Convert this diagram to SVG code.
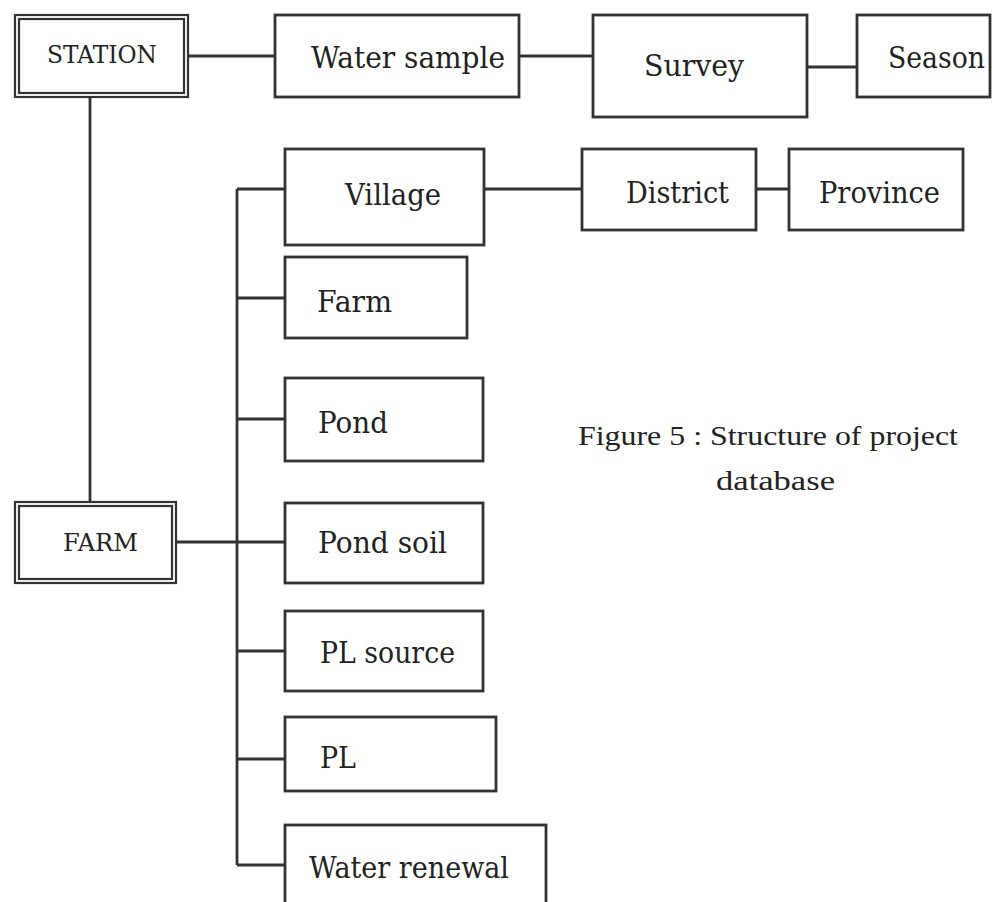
<svg xmlns="http://www.w3.org/2000/svg" width="992" height="902" viewBox="0 0 992 902">
<style>
.box{fill:#fff;stroke:#333;stroke-width:2.8}
.dbl{fill:none;stroke:#333;stroke-width:2.2}
.lbl{font-family:"DejaVu Serif","Liberation Serif",serif;font-size:29px;fill:#222}
.cap{font-family:"DejaVu Serif","Liberation Serif",serif;font-size:25px;fill:#222}
.line{fill:none;stroke:#333;stroke-width:2.8}
.caption{font-family:"Liberation Serif","Times New Roman",serif;font-size:28px;fill:#222}
</style>
<rect width="992" height="902" fill="#fff"/>
<g id="connectors">
<line class="line" x1="188" y1="56" x2="275" y2="56"/>
<line class="line" x1="519" y1="56" x2="593" y2="56"/>
<line class="line" x1="807" y1="67" x2="857" y2="67"/>
<line class="line" x1="90" y1="97" x2="90" y2="502"/>
<line class="line" x1="176" y1="542" x2="285" y2="542"/>
<line class="line" x1="237" y1="189" x2="237" y2="865"/>
<line class="line" x1="237" y1="189" x2="285" y2="189"/>
<line class="line" x1="484" y1="189" x2="582" y2="189"/>
<line class="line" x1="756" y1="189" x2="789" y2="189"/>
<line class="line" x1="237" y1="298" x2="285" y2="298"/>
<line class="line" x1="237" y1="419" x2="285" y2="419"/>
<line class="line" x1="237" y1="651" x2="285" y2="651"/>
<line class="line" x1="237" y1="759" x2="285" y2="759"/>
<line class="line" x1="237" y1="865" x2="285" y2="865"/>
</g>
<g id="station">
<rect class="dbl" x="15" y="15" width="173" height="82"/>
<rect class="dbl" x="19" y="19" width="165" height="74"/>
<text class="cap" x="47" y="63" textLength="110" lengthAdjust="spacingAndGlyphs">STATION</text>
</g>
<g id="water-sample">
<rect class="box" x="275" y="15" width="244" height="82"/>
<text class="lbl" x="311" y="68" textLength="194" lengthAdjust="spacingAndGlyphs">Water sample</text>
</g>
<g id="survey">
<rect class="box" x="593" y="15" width="214" height="102"/>
<text class="lbl" x="644" y="76" textLength="100" lengthAdjust="spacingAndGlyphs">Survey</text>
</g>
<g id="season">
<rect class="box" x="857" y="15" width="133" height="82"/>
<text class="lbl" x="888" y="68" textLength="97" lengthAdjust="spacingAndGlyphs">Season</text>
</g>
<g id="village">
<rect class="box" x="285" y="149" width="199" height="96"/>
<text class="lbl" x="345" y="205" textLength="96" lengthAdjust="spacingAndGlyphs">Village</text>
</g>
<g id="district">
<rect class="box" x="582" y="149" width="174" height="81"/>
<text class="lbl" x="626" y="203" textLength="103" lengthAdjust="spacingAndGlyphs">District</text>
</g>
<g id="province">
<rect class="box" x="789" y="149" width="174" height="81"/>
<text class="lbl" x="819" y="203" textLength="121" lengthAdjust="spacingAndGlyphs">Province</text>
</g>
<g id="farm-table">
<rect class="box" x="285" y="257" width="182" height="81"/>
<text class="lbl" x="317" y="312" textLength="75" lengthAdjust="spacingAndGlyphs">Farm</text>
</g>
<g id="pond">
<rect class="box" x="285" y="378" width="198" height="83"/>
<text class="lbl" x="318" y="433" textLength="70" lengthAdjust="spacingAndGlyphs">Pond</text>
</g>
<g id="farm">
<rect class="dbl" x="15" y="502" width="161" height="81"/>
<rect class="dbl" x="19" y="506" width="153" height="73"/>
<text class="cap" x="63" y="551" textLength="75" lengthAdjust="spacingAndGlyphs">FARM</text>
</g>
<g id="pond-soil">
<rect class="box" x="285" y="503" width="198" height="80"/>
<text class="lbl" x="318" y="553" textLength="129" lengthAdjust="spacingAndGlyphs">Pond soil</text>
</g>
<g id="pl-source">
<rect class="box" x="285" y="611" width="198" height="80"/>
<text class="lbl" x="320" y="663" textLength="135" lengthAdjust="spacingAndGlyphs">PL source</text>
</g>
<g id="pl">
<rect class="box" x="285" y="717" width="211" height="74"/>
<text class="lbl" x="320" y="768" textLength="36" lengthAdjust="spacingAndGlyphs">PL</text>
</g>
<g id="water-renewal">
<rect class="box" x="285" y="825" width="261" height="90"/>
<text class="lbl" x="309" y="878" textLength="200" lengthAdjust="spacingAndGlyphs">Water renewal</text>
</g>
<g id="caption">
<text class="caption" x="578" y="445" textLength="380" lengthAdjust="spacingAndGlyphs">Figure 5 : Structure of project</text>
<text class="caption" x="716" y="490" textLength="119" lengthAdjust="spacingAndGlyphs">database</text>
</g>
</svg>
